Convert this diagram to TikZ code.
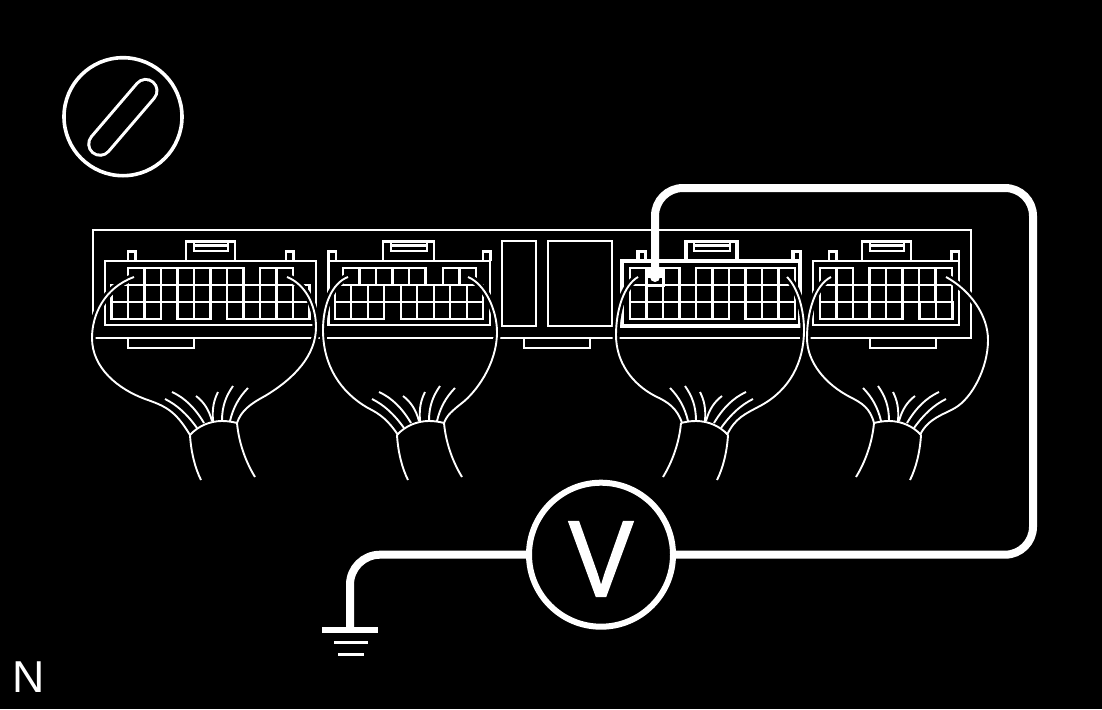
\documentclass[tikz,border=0pt]{standalone}
\usepackage{graphicx}
\usepackage{fontspec}
\setmainfont{Liberation Sans}
\newfontfamily\meterfont[FakeBold=1.6]{Liberation Sans}
\newcommand\cellrow[3]{\foreach \i in {1,...,#3} \draw[thinline] ({#2+(\i-1)*16.5},#1) rectangle ++(16.5,17);}
\newcommand\toptab[3][thinline]{\draw[#1] (#2,260.5) |- (#3,241.5) -- (#3,260.5);
  \draw[thinline] (#2+8,241.5) -- (#2+8,251) -- (#3-7,251) -- (#3-7,241.5) (#2+8,245.5) -- (#3-7,245.5);}
\newcommand\smalltab[2][thinline]{\draw[#1] (#2,261) |- (#2+7.5,251.5) -- (#2+7.5,261);}
\newcommand\harness[1]{
  \draw[#1] (134,277) .. controls (104,288) and (92,315) .. (92,338) .. controls (92,368) and (118,389) .. (145,399) .. controls (165,406) and (175,410) .. (190,435);
  \draw[#1] (287,277) .. controls (305,284) and (316,305) .. (316,327) .. controls (316,355) and (295,378) .. (265,396) .. controls (250,404) and (241,411) .. (237,423);
  \draw[#1] (348,277) .. controls (332,283) and (323,305) .. (323,330) .. controls (323,365) and (340,392) .. (368,408) .. controls (380,414) and (388,420) .. (398,435);
  \draw[#1] (468,277) .. controls (485,284) and (497,310) .. (497,332) .. controls (497,365) and (475,393) .. (462,403) .. controls (452,411) and (447,415) .. (444,423);
  \draw[#1] (638,277) .. controls (624,285) and (616,310) .. (616,335) .. controls (616,362) and (632,384) .. (655,396) .. controls (668,402) and (677,408) .. (682,423);
  \draw[#1] (787,277) .. controls (798,288) and (804,310) .. (804,330) .. controls (804,362) and (790,390) .. (760,406) .. controls (745,414) and (735,418) .. (727,435);
  \draw[#1] (831,277) .. controls (815,285) and (807,312) .. (807,338) .. controls (807,362) and (825,384) .. (850,397) .. controls (862,403) and (870,408) .. (874,423);
  \draw[#1] (946,277) .. controls (970,290) and (988,315) .. (988,340) .. controls (988,368) and (972,398) .. (955,408) .. controls (945,414) and (928,418) .. (920,435);
}
\newcommand\fanwires{
  \draw[wireline] (190,435) .. controls (198,426) and (210,421) .. (222,421) .. controls (228,421) and (233,422) .. (237,423);
  \draw[wireline] (190,435) .. controls (191,452) and (195,468) .. (201,480);
  \draw[wireline] (237,423) .. controls (239,445) and (247,464) .. (255,477);
  \draw[wireline] (197,428) .. controls (187,414) and (177,405) .. (165,399);
  \draw[wireline] (204,423) .. controls (195,408) and (185,398) .. (172,392);
  \draw[wireline] (212,421) .. controls (209,410) and (204,402) .. (196,396);
  \draw[wireline] (213,421) .. controls (212,408) and (214,400) .. (218,392);
  \draw[wireline] (222,421) .. controls (222,406) and (226,396) .. (233,386);
  \draw[wireline] (230,421) .. controls (233,408) and (239,397) .. (248,388);
}
\tikzset{
  thinline/.style={draw=white,line width=2.1pt},
  thickline/.style={draw=white,line width=3.2pt},
  wireline/.style={draw=white,line width=1.9pt},
  halo/.style={draw=black,line width=7pt},
  probewire/.style={draw=white,line width=8pt,rounded corners=28pt},
  groundwire/.style={draw=white,line width=8pt,rounded corners=30pt}
}
\begin{document}
\begin{tikzpicture}[x=1pt,y=-1pt]
\useasboundingbox (0,0) rectangle (1102,709);
\fill[black] (0,0) rectangle (1102,709);
% key symbol
\draw[white,line width=3.6pt] (123,116.7) circle[radius=59];
\coordinate (slota) at (100,144);
\coordinate (slotb) at (145.7,90.7);
\draw[white,line width=25.6pt,line cap=round] (slota) -- (slotb);
\draw[black,line width=19.4pt,line cap=round] (slota) -- (slotb);
% frame
\draw[thinline] (93,230) rectangle (971,338);
\draw[thinline] (128,338) rectangle (194,348);
\draw[thinline] (524,338) rectangle (590,348);
\draw[thinline] (870,338) rectangle (936,348);
\draw[thinline] (502,241) rectangle (536,326);
\draw[thinline] (548,241) rectangle (612,326);
% connector 1
\draw[thinline] (105,261) rectangle (316,325);
\toptab{186}{235}\smalltab{128}\smalltab{286}
\cellrow{268}{128}{7}\cellrow{268}{260}{2}
\cellrow{285}{111.5}{12}
\cellrow{302}{111.5}{3}\cellrow{302}{177.5}{2}\cellrow{302}{227}{5}
% connector 2
\draw[thinline] (328.5,261) rectangle (490,325);
\toptab{383}{434}\smalltab{328.5}\smalltab{483}
\cellrow{268}{343}{5}\cellrow{268}{443}{2}
\cellrow{285}{334.75}{9}
\cellrow{302}{334.75}{3}\cellrow{302}{400.75}{5}
% connector 3 (highlighted)
\draw[thickline] (622,261) rectangle (800,326);
\toptab[thickline]{686}{737}\smalltab[thickline]{638}\smalltab[thickline]{793}
\cellrow{268}{630}{3}\cellrow{268}{696}{6}
\cellrow{285}{630}{10}
\cellrow{302}{630}{6}\cellrow{302}{745.5}{3}
% connector 4
\draw[thinline] (813,261) rectangle (959,325);
\toptab{862}{911}\smalltab{829}\smalltab{951.5}
\cellrow{268}{820}{2}\cellrow{268}{869.5}{5}
\cellrow{285}{820}{8}
\cellrow{302}{820}{5}\cellrow{302}{919.5}{2}
% harness outlines
\harness{halo}
\harness{wireline}
\begin{scope}[xshift=0pt]\fanwires\end{scope}
\begin{scope}[xshift=207pt]\fanwires\end{scope}
\begin{scope}[xshift=918pt,xscale=-1]\fanwires\end{scope}
\begin{scope}[xshift=1111pt,xscale=-1]\fanwires\end{scope}
% probe
\node[fill=white,minimum width=20pt,minimum height=20pt,inner sep=0pt] (probebox) at (655,277) {};
\fill[black] (648,278) rectangle (662,284);
\fill[white] (655,277) circle[radius=5];
\coordinate (probetip) at (655,277);
% meter
\node[circle,draw=white,line width=6pt,minimum size=144pt,inner sep=0pt] (meter) at (601,554.7) {};
\node[text=white,font=\meterfont\fontsize{108}{108}\selectfont,inner sep=0pt] (vlabel) at (601,559) {\scalebox{0.9}[1]{V}};
\coordinate (groundtop) at (350,630);
\draw[probewire] (meter.east) -- (1033,554.7) -- (1033,188) -- (655,188) -- (probetip);
\draw[groundwire] (meter.west) -- (350,554.7) -- (groundtop);
% ground
\coordinate (g1a) at (322,630);\coordinate (g1b) at (378,630);
\coordinate (g2a) at (334,642.5);\coordinate (g2b) at (368,642.5);
\coordinate (g3a) at (338,654);\coordinate (g3b) at (364,654);
\draw[white,line width=6pt] (g1a) -- (g1b);
\draw[white,line width=3pt] (g2a) -- (g2b);
\draw[white,line width=3pt] (g3a) -- (g3b);
\node[text=white,font=\fontsize{44.7}{44.7}\selectfont,inner sep=0pt] (nlabel) at (28.5,677) {N};
\end{tikzpicture}
\end{document}
